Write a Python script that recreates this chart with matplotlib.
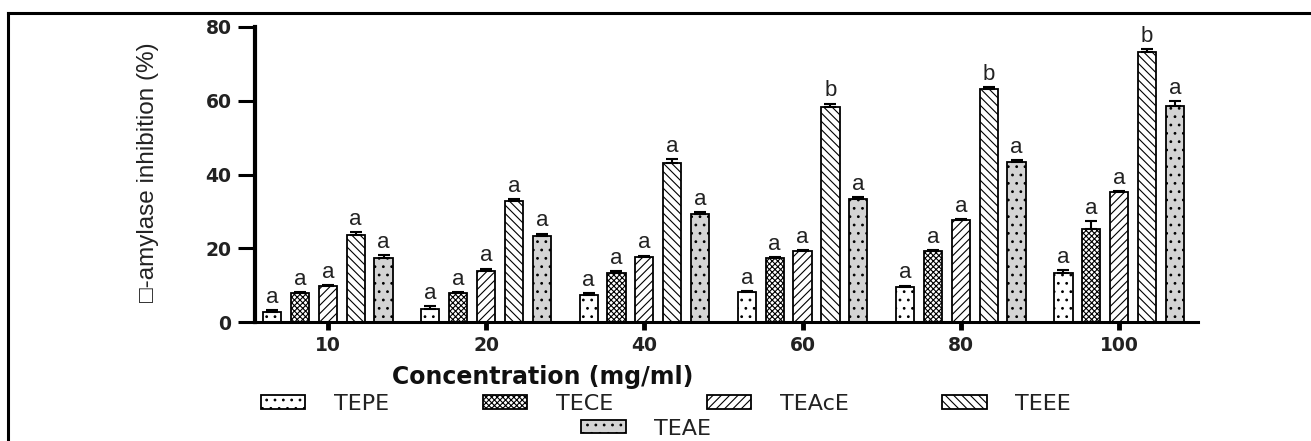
import numpy as np
import matplotlib.pyplot as plt
from matplotlib.lines import Line2D

concentrations = ["10", "20", "40", "60", "80", "100"]
series_names = ["TEPE", "TECE", "TEAcE", "TEEE", "TEAE"]

tepe = [2.7, 3.5, 7.3, 8.1, 9.4, 13.4]
tece = [7.8, 7.8, 13.4, 17.3, 19.2, 25.3]
teace = [9.8, 13.7, 17.5, 19.2, 27.6, 35.3]
teee = [23.7, 32.8, 43.2, 58.4, 63.1, 73.3]
teae = [17.3, 23.4, 29.3, 33.4, 43.3, 58.6]

tepe_err = [0.5, 0.8, 0.6, 0.3, 0.5, 0.6]
tece_err = [0.3, 0.3, 0.3, 0.3, 0.3, 2.0]
teace_err = [0.3, 0.8, 0.5, 0.3, 0.3, 0.3]
teee_err = [0.6, 0.6, 1.0, 0.8, 0.6, 0.6]
teae_err = [0.8, 0.6, 0.5, 0.5, 0.6, 1.2]

tepe_lbl = ["a", "a", "a", "a", "a", "a"]
tece_lbl = ["a", "a", "a", "a", "a", "a"]
teace_lbl = ["a", "a", "a", "a", "a", "a"]
teee_lbl = ["a", "a", "a", "b", "b", "b"]
teae_lbl = ["a", "a", "a", "a", "a", "a"]

values = [tepe, tece, teace, teee, teae]
errors = [tepe_err, tece_err, teace_err, teee_err, teae_err]
letters = [tepe_lbl, tece_lbl, teace_lbl, teee_lbl, teae_lbl]

hatches = ["..", "xxxxxx", "////", "\\\\\\\\", ".."]
fills = ["white", "white", "white", "white", "#d4d4d4"]

plt.rcParams["hatch.linewidth"] = 0.8

fig = plt.figure(figsize=(13.11, 4.41), dpi=100)
ax = fig.add_axes([0.1945, 0.2698, 0.7195, 0.669])

x = np.arange(len(concentrations))
pitch = 0.176
width = 0.115

for i, name in enumerate(series_names):
    pos = x + (i - 2) * pitch
    v = np.array(values[i])
    e = np.array(errors[i])
    ax.bar(pos, v, width, color=fills[i], edgecolor="black", linewidth=1.3,
           hatch=hatches[i], label=name, zorder=2)
    ax.errorbar(pos, v, yerr=[np.zeros_like(e), e], fmt="none", ecolor="black",
                elinewidth=1.5, capsize=4, capthick=1.5, zorder=3)
    for px, py, pe, t in zip(pos, v, e, letters[i]):
        ax.text(px, py + pe + 0.6, t, ha="center", va="bottom", fontsize=16,
                family="Liberation Sans", color="#222222")

ax.set_xlim(-0.46, 5.5)
ax.set_ylim(0, 80)
ax.set_yticks([0, 20, 40, 60, 80])
ax.set_xticks(x)
ax.set_xticklabels(concentrations)

for s in ["top", "right"]:
    ax.spines[s].set_visible(False)
ax.spines["left"].set_linewidth(3)
ax.spines["bottom"].set_linewidth(2.2)

ax.tick_params(axis="y", length=12, width=2.2, pad=5, labelsize=13.5)
ax.tick_params(axis="x", length=6, width=3.5, pad=4, labelsize=13.5)
for lab in ax.get_xticklabels() + ax.get_yticklabels():
    lab.set_fontweight("bold")
    lab.set_family("DejaVu Sans")
    lab.set_color("#222222")

fig.text(0.414, 0.146, "Concentration (mg/ml)", ha="center", va="center",
         fontsize=17, fontweight="bold", family="DejaVu Sans", color="#111111")
fig.text(0.113, 0.61, "\u25a1-amylase inhibition (%)", rotation=90, ha="center",
         va="center", fontsize=17.5, family="Liberation Sans", color="#222222")

handles, labels = ax.get_legend_handles_labels()
leg1 = fig.legend(handles[:4], labels[:4], loc="center", ncol=4,
                  bbox_to_anchor=(0.508, 0.084), frameon=False,
                  prop={"family": "DejaVu Sans", "size": 16},
                  handlelength=2.0, handleheight=0.55, handletextpad=1.3,
                  columnspacing=4.2, borderpad=0.2)
leg2 = fig.legend(handles[4:], labels[4:], loc="center", ncol=1,
                  bbox_to_anchor=(0.493, 0.028), frameon=False,
                  prop={"family": "DejaVu Sans", "size": 16},
                  handlelength=2.0, handleheight=0.55, handletextpad=1.3,
                  borderpad=0.15)
for leg in (leg1, leg2):
    for t in leg.get_texts():
        t.set_color("#222222")

# outer frame (top and left edges only visible)
fig.add_artist(Line2D([8 / 1311, 1.0], [1 - 13 / 441, 1 - 13 / 441],
                      transform=fig.transFigure, color="black", linewidth=2.2))
fig.add_artist(Line2D([8 / 1311, 8 / 1311], [0.0, 1 - 13 / 441],
                      transform=fig.transFigure, color="black", linewidth=2.2))

fig.savefig("out.png", dpi=100)
